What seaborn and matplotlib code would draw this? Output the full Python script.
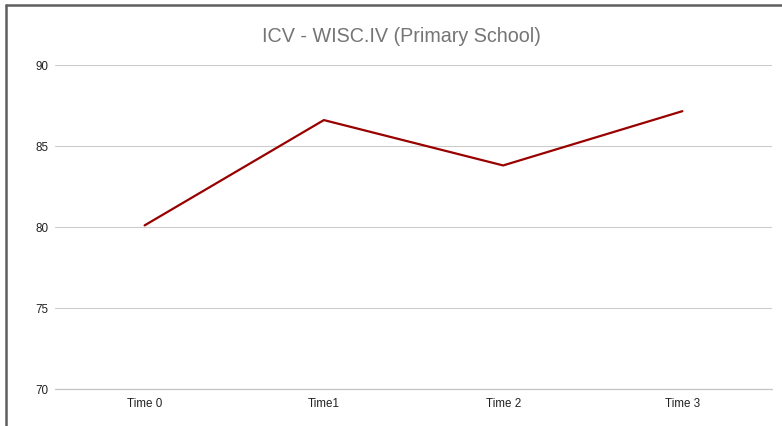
import pandas as pd
import matplotlib.pyplot as plt
import seaborn as sns
from matplotlib.lines import Line2D

times = ['Time 0', 'Time1', 'Time 2', 'Time 3']
icv = [80.1, 86.6, 83.8, 87.15]

sns.set_style('white')
plt.rcParams['font.family'] = ['Liberation Sans', 'DejaVu Sans']

df = pd.DataFrame({'time': times, 'icv': icv})

fig = plt.figure(figsize=(7.82, 4.27), dpi=100)
ax = fig.add_axes([55 / 782, 37 / 427, 717 / 782, 324 / 427])

sns.lineplot(data=df, x='time', y='icv', color='#990000', linewidth=1.6,
             sort=False, ax=ax)

ax.set_xlim(-0.5, 3.5)
ax.set_ylim(70, 90)
ax.set_yticks([70, 75, 80, 85, 90])
ax.grid(axis='y', color='#cccccc', linewidth=0.8)
ax.grid(axis='x', visible=False)
for s in ax.spines.values():
    s.set_visible(False)
ax.axhline(70, color='#c4c4c4', linewidth=0.9, zorder=1, clip_on=False)
ax.tick_params(axis='both', length=0, labelsize=8.4, labelcolor='#222222')
ax.tick_params(axis='y', pad=5)
ax.tick_params(axis='x', pad=6)
ax.set_xlabel('')
ax.set_ylabel('')

fig.text(401 / 782, 1 - 37 / 427, 'ICV - WISC.IV (Primary School)', ha='center',
         va='center', fontsize=14.2, color='#757575')

# outer frame (left and top edges)
fig.add_artist(Line2D([6 / 782, 6 / 782], [0, 1 - 6 / 427], transform=fig.transFigure,
                      color='#5f5f5f', linewidth=1.8))
fig.add_artist(Line2D([6 / 782, 1], [1 - 6 / 427, 1 - 6 / 427], transform=fig.transFigure,
                      color='#5f5f5f', linewidth=1.8))

fig.savefig('out.png', dpi=100)
